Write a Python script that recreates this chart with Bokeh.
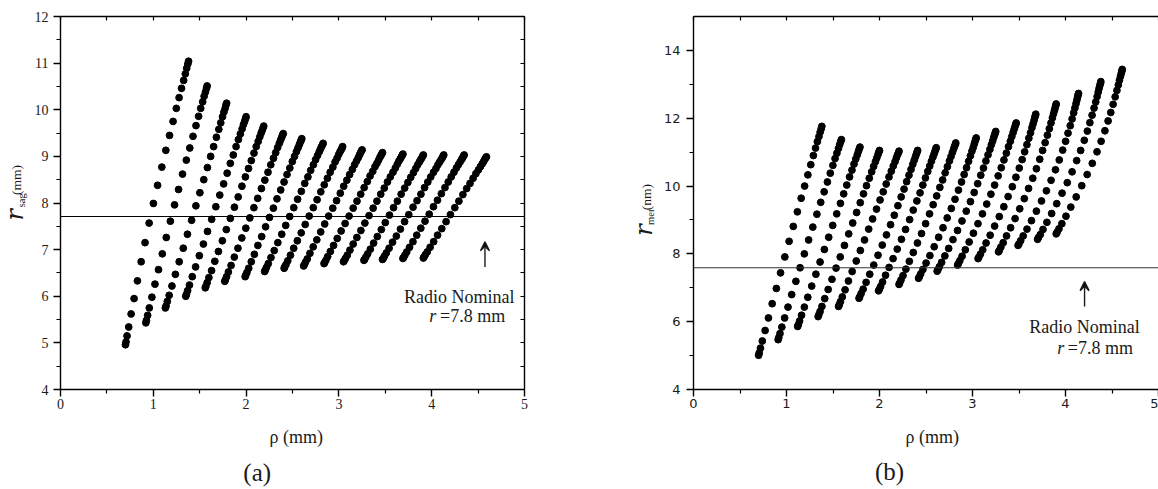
from bokeh.plotting import figure
from bokeh.models import (Range1d, LinearAxis, FixedTicker, Span, Label, Arrow,
                          VeeHead, ColumnDataSource)
from bokeh.layouts import row, column
from bokeh.embed import file_html
from bokeh.resources import INLINE

# ---------------- data ----------------
# (a) sagittal radius: 16 curves, rho (mm) and r_sag (mm)
SAG_RHO = [
    [0.700,0.706,0.717,0.735,0.761,0.793,0.829,0.869,0.911,0.955,1.001,1.046,1.092,1.135,1.175,1.213,1.248,1.278,1.304,1.327,1.345,1.360,1.372,1.380],
    [0.920,0.926,0.939,0.957,0.985,1.018,1.056,1.097,1.140,1.184,1.229,1.272,1.315,1.356,1.393,1.428,1.460,1.488,1.511,1.532,1.548,1.562,1.573,1.580],
    [1.130,1.137,1.151,1.171,1.201,1.238,1.279,1.323,1.368,1.413,1.459,1.502,1.544,1.583,1.618,1.650,1.680,1.706,1.727,1.746,1.761,1.774,1.783,1.790],
    [1.350,1.357,1.370,1.390,1.420,1.456,1.496,1.540,1.584,1.629,1.674,1.716,1.758,1.796,1.830,1.862,1.892,1.917,1.938,1.957,1.971,1.984,1.994,2.000],
    [1.560,1.566,1.580,1.599,1.628,1.663,1.702,1.744,1.787,1.830,1.874,1.915,1.955,1.992,2.026,2.056,2.085,2.109,2.130,2.148,2.162,2.174,2.184,2.190],
    [1.770,1.776,1.790,1.809,1.838,1.873,1.912,1.954,1.997,2.040,2.084,2.125,2.165,2.202,2.236,2.266,2.295,2.319,2.340,2.358,2.372,2.384,2.394,2.400],
    [1.990,1.996,2.009,2.028,2.056,2.089,2.127,2.168,2.210,2.252,2.294,2.333,2.373,2.409,2.441,2.471,2.498,2.522,2.542,2.559,2.573,2.585,2.594,2.600],
    [2.200,2.206,2.220,2.239,2.268,2.303,2.342,2.384,2.427,2.470,2.514,2.555,2.595,2.632,2.666,2.696,2.725,2.749,2.770,2.788,2.802,2.814,2.824,2.830],
    [2.410,2.416,2.430,2.449,2.478,2.513,2.552,2.594,2.637,2.680,2.724,2.765,2.805,2.842,2.876,2.906,2.935,2.959,2.980,2.998,3.012,3.024,3.034,3.040],
    [2.620,2.626,2.640,2.659,2.688,2.723,2.762,2.804,2.847,2.890,2.934,2.975,3.015,3.052,3.086,3.116,3.145,3.169,3.190,3.208,3.222,3.234,3.244,3.250],
    [2.840,2.846,2.860,2.879,2.908,2.943,2.982,3.024,3.067,3.110,3.154,3.195,3.235,3.272,3.306,3.336,3.365,3.389,3.410,3.428,3.442,3.454,3.464,3.470],
    [3.050,3.056,3.070,3.090,3.119,3.154,3.194,3.237,3.280,3.325,3.369,3.410,3.451,3.489,3.523,3.554,3.583,3.608,3.629,3.647,3.662,3.674,3.684,3.690],
    [3.270,3.276,3.290,3.310,3.339,3.374,3.414,3.457,3.500,3.545,3.589,3.630,3.671,3.709,3.743,3.774,3.803,3.828,3.849,3.867,3.882,3.894,3.904,3.910],
    [3.470,3.477,3.491,3.511,3.541,3.578,3.619,3.663,3.708,3.753,3.799,3.842,3.884,3.923,3.958,3.990,4.020,4.046,4.067,4.086,4.101,4.114,4.123,4.130],
    [3.690,3.697,3.711,3.731,3.761,3.798,3.839,3.883,3.928,3.973,4.019,4.062,4.104,4.143,4.178,4.210,4.240,4.266,4.287,4.306,4.321,4.334,4.343,4.350],
    [3.910,3.917,3.931,3.952,3.983,4.021,4.063,4.109,4.155,4.202,4.249,4.293,4.336,4.377,4.413,4.446,4.476,4.503,4.525,4.544,4.560,4.573,4.583,4.590],
]
SAG_R = [
    [4.96,5.02,5.15,5.34,5.62,5.95,6.33,6.74,7.15,7.57,7.99,8.38,8.77,9.13,9.45,9.75,10.03,10.26,10.46,10.63,10.77,10.89,10.98,11.04],
    [5.43,5.48,5.59,5.75,5.98,6.26,6.57,6.91,7.26,7.61,7.96,8.29,8.62,8.92,9.18,9.43,9.66,9.86,10.03,10.17,10.29,10.38,10.46,10.51],
    [5.75,5.79,5.89,6.02,6.22,6.47,6.74,7.03,7.33,7.63,7.94,8.22,8.50,8.76,9.00,9.21,9.41,9.58,9.72,9.85,9.95,10.03,10.10,10.14],
    [6.00,6.04,6.12,6.24,6.42,6.63,6.87,7.12,7.39,7.65,7.92,8.17,8.41,8.64,8.85,9.03,9.21,9.36,9.48,9.59,9.68,9.75,9.81,9.85],
    [6.18,6.21,6.29,6.40,6.55,6.75,6.96,7.19,7.43,7.67,7.91,8.13,8.36,8.56,8.74,8.91,9.07,9.21,9.32,9.42,9.50,9.56,9.62,9.65],
    [6.32,6.35,6.42,6.52,6.66,6.84,7.03,7.25,7.46,7.68,7.90,8.10,8.31,8.49,8.66,8.82,8.96,9.08,9.19,9.28,9.35,9.41,9.46,9.49],
    [6.42,6.45,6.51,6.60,6.74,6.90,7.09,7.28,7.49,7.69,7.89,8.09,8.28,8.45,8.61,8.75,8.89,9.00,9.10,9.18,9.25,9.31,9.35,9.38],
    [6.53,6.56,6.62,6.70,6.83,6.98,7.15,7.33,7.52,7.71,7.90,8.08,8.25,8.42,8.56,8.70,8.82,8.93,9.02,9.10,9.16,9.21,9.25,9.28],
    [6.60,6.63,6.68,6.76,6.88,7.03,7.19,7.36,7.54,7.72,7.90,8.07,8.24,8.39,8.53,8.66,8.77,8.88,8.96,9.04,9.10,9.14,9.18,9.21],
    [6.65,6.67,6.73,6.80,6.92,7.06,7.21,7.38,7.55,7.72,7.89,8.05,8.21,8.36,8.49,8.61,8.72,8.82,8.90,8.97,9.03,9.08,9.12,9.14],
    [6.70,6.72,6.77,6.85,6.96,7.09,7.24,7.40,7.56,7.72,7.89,8.04,8.19,8.33,8.46,8.58,8.68,8.78,8.85,8.92,8.98,9.02,9.06,9.08],
    [6.74,6.76,6.81,6.88,6.99,7.12,7.26,7.41,7.57,7.73,7.89,8.04,8.19,8.32,8.45,8.56,8.66,8.75,8.83,8.90,8.95,8.99,9.03,9.05],
    [6.77,6.79,6.84,6.91,7.01,7.14,7.28,7.43,7.58,7.74,7.90,8.04,8.19,8.32,8.44,8.55,8.65,8.74,8.82,8.88,8.93,8.97,9.01,9.03],
    [6.79,6.81,6.86,6.93,7.03,7.16,7.29,7.44,7.60,7.75,7.91,8.05,8.19,8.33,8.45,8.56,8.66,8.74,8.82,8.88,8.93,8.97,9.01,9.03],
    [6.81,6.83,6.88,6.95,7.05,7.17,7.31,7.46,7.61,7.76,7.92,8.06,8.20,8.33,8.45,8.56,8.66,8.75,8.82,8.88,8.93,8.97,9.01,9.03],
    [6.82,6.84,6.89,6.95,7.05,7.17,7.31,7.45,7.60,7.75,7.90,8.04,8.18,8.31,8.42,8.53,8.63,8.71,8.78,8.84,8.89,8.94,8.97,8.99],
]
# (b) meridional radius: 16 curves, rho (mm) and r_mer
MER_RHO = [
    [0.700,0.707,0.720,0.740,0.770,0.806,0.846,0.891,0.936,0.982,1.028,1.073,1.117,1.158,1.195,1.230,1.261,1.289,1.312,1.332,1.349,1.362,1.373,1.380],
    [0.910,0.917,0.930,0.950,0.980,1.016,1.056,1.101,1.146,1.192,1.238,1.283,1.327,1.368,1.405,1.440,1.471,1.499,1.522,1.542,1.559,1.572,1.583,1.590],
    [1.120,1.127,1.141,1.162,1.192,1.229,1.271,1.316,1.361,1.407,1.454,1.497,1.540,1.580,1.615,1.648,1.678,1.704,1.726,1.745,1.761,1.773,1.783,1.790],
    [1.340,1.347,1.361,1.381,1.411,1.448,1.489,1.533,1.578,1.623,1.669,1.712,1.754,1.793,1.828,1.860,1.890,1.916,1.937,1.956,1.971,1.984,1.993,2.000],
    [1.560,1.567,1.580,1.600,1.630,1.666,1.706,1.750,1.794,1.839,1.884,1.926,1.968,2.006,2.040,2.072,2.102,2.127,2.148,2.167,2.181,2.194,2.204,2.210],
    [1.780,1.787,1.802,1.824,1.856,1.895,1.938,1.984,2.030,2.075,2.119,2.159,2.198,2.233,2.264,2.292,2.317,2.339,2.358,2.373,2.386,2.396,2.405,2.410],
    [1.990,1.997,2.012,2.033,2.065,2.103,2.146,2.191,2.236,2.280,2.324,2.363,2.402,2.436,2.466,2.494,2.519,2.540,2.558,2.574,2.586,2.596,2.605,2.610],
    [2.210,2.217,2.231,2.253,2.284,2.321,2.363,2.408,2.452,2.496,2.538,2.577,2.615,2.649,2.679,2.706,2.730,2.752,2.769,2.784,2.797,2.807,2.815,2.820],
    [2.420,2.428,2.443,2.467,2.501,2.542,2.588,2.636,2.683,2.728,2.772,2.812,2.849,2.882,2.910,2.936,2.958,2.978,2.994,3.008,3.019,3.028,3.035,3.040],
    [2.620,2.628,2.644,2.668,2.703,2.744,2.790,2.839,2.887,2.933,2.978,3.018,3.056,3.089,3.118,3.144,3.167,3.187,3.203,3.217,3.228,3.238,3.245,3.250],
    [2.840,2.848,2.864,2.888,2.923,2.964,3.010,3.059,3.107,3.153,3.198,3.238,3.276,3.309,3.338,3.364,3.387,3.407,3.423,3.437,3.448,3.458,3.465,3.470],
    [3.060,3.068,3.085,3.110,3.146,3.190,3.238,3.288,3.337,3.383,3.428,3.467,3.503,3.534,3.561,3.585,3.606,3.624,3.639,3.651,3.661,3.669,3.676,3.680],
    [3.280,3.288,3.305,3.330,3.366,3.410,3.458,3.508,3.557,3.603,3.648,3.687,3.723,3.754,3.781,3.805,3.826,3.844,3.859,3.871,3.881,3.889,3.896,3.900],
    [3.490,3.499,3.518,3.545,3.586,3.634,3.687,3.742,3.795,3.845,3.892,3.933,3.970,4.001,4.027,4.051,4.071,4.088,4.101,4.113,4.122,4.130,4.136,4.140],
    [3.700,3.709,3.729,3.758,3.800,3.851,3.906,3.963,4.019,4.071,4.120,4.163,4.202,4.235,4.262,4.286,4.307,4.325,4.340,4.352,4.361,4.369,4.376,4.380],
    [3.900,3.910,3.930,3.961,4.005,4.057,4.115,4.175,4.233,4.288,4.339,4.383,4.424,4.458,4.487,4.512,4.534,4.553,4.568,4.580,4.591,4.599,4.606,4.610],
]
MER_R = [
    [5.01,5.08,5.22,5.43,5.74,6.11,6.53,6.98,7.44,7.91,8.37,8.81,9.24,9.64,10.00,10.33,10.63,10.90,11.12,11.31,11.46,11.59,11.69,11.76],
    [5.47,5.53,5.65,5.84,6.11,6.43,6.80,7.19,7.59,8.00,8.41,8.79,9.17,9.52,9.83,10.12,10.38,10.61,10.81,10.97,11.11,11.22,11.31,11.37],
    [5.86,5.91,6.02,6.19,6.43,6.72,7.05,7.40,7.76,8.13,8.49,8.84,9.18,9.49,9.77,10.03,10.27,10.47,10.65,10.80,10.92,11.02,11.10,11.15],
    [6.15,6.20,6.30,6.45,6.68,6.95,7.25,7.58,7.91,8.25,8.59,8.91,9.22,9.51,9.77,10.01,10.23,10.42,10.58,10.72,10.83,10.93,11.00,11.05],
    [6.45,6.50,6.59,6.73,6.94,7.20,7.48,7.79,8.10,8.41,8.73,9.03,9.32,9.59,9.83,10.06,10.27,10.44,10.59,10.72,10.83,10.92,10.98,11.03],
    [6.69,6.73,6.83,6.96,7.16,7.40,7.67,7.96,8.26,8.56,8.86,9.14,9.42,9.68,9.91,10.13,10.32,10.49,10.64,10.76,10.86,10.94,11.01,11.05],
    [6.91,6.95,7.04,7.17,7.37,7.60,7.86,8.14,8.43,8.72,9.01,9.29,9.56,9.80,10.03,10.24,10.43,10.59,10.73,10.85,10.94,11.02,11.09,11.13],
    [7.10,7.14,7.23,7.36,7.55,7.78,8.04,8.32,8.60,8.89,9.18,9.45,9.71,9.96,10.18,10.39,10.57,10.74,10.87,10.99,11.09,11.17,11.23,11.27],
    [7.28,7.32,7.41,7.54,7.73,7.95,8.21,8.49,8.77,9.06,9.34,9.61,9.88,10.12,10.34,10.54,10.73,10.89,11.03,11.14,11.24,11.32,11.38,11.42],
    [7.49,7.53,7.62,7.75,7.94,8.16,8.42,8.69,8.97,9.26,9.54,9.81,10.07,10.32,10.53,10.74,10.92,11.08,11.22,11.33,11.43,11.51,11.57,11.61],
    [7.67,7.71,7.80,7.93,8.12,8.35,8.61,8.89,9.18,9.47,9.76,10.03,10.30,10.54,10.77,10.97,11.16,11.32,11.46,11.58,11.68,11.76,11.82,11.86],
    [7.86,7.90,7.99,8.12,8.32,8.55,8.82,9.10,9.39,9.69,9.98,10.26,10.53,10.78,11.01,11.22,11.41,11.57,11.72,11.83,11.93,12.01,12.08,12.12],
    [8.06,8.10,8.20,8.33,8.53,8.77,9.04,9.33,9.63,9.93,10.23,10.51,10.79,11.05,11.28,11.50,11.69,11.86,12.01,12.13,12.23,12.31,12.38,12.42],
    [8.25,8.29,8.39,8.53,8.73,8.98,9.26,9.56,9.86,10.17,10.48,10.77,11.06,11.32,11.56,11.78,11.98,12.16,12.30,12.43,12.53,12.62,12.69,12.73],
    [8.43,8.48,8.57,8.72,8.93,9.19,9.48,9.79,10.10,10.42,10.75,11.05,11.35,11.62,11.87,12.09,12.30,12.48,12.64,12.77,12.88,12.96,13.03,13.08],
    [8.59,8.64,8.74,8.89,9.11,9.38,9.68,10.01,10.34,10.67,11.01,11.32,11.63,11.92,12.17,12.41,12.63,12.82,12.98,13.12,13.23,13.32,13.39,13.44],
]

SAG_NOMINAL_LINE = 7.71
MER_NOMINAL_LINE = 7.59

X_TICKS = [0, 1, 2, 3, 4, 5]
X_MINOR = [0.5, 1.5, 2.5, 3.5, 4.5]
X_HALF = [0, 0.5, 1, 1.5, 2, 2.5, 3, 3.5, 4, 4.5, 5]
SAG_Y_TICKS = [4, 5, 6, 7, 8, 9, 10, 11, 12]
SAG_Y_MINOR = [4.5, 5.5, 6.5, 7.5, 8.5, 9.5, 10.5, 11.5]
SAG_Y_HALF = [4, 4.5, 5, 5.5, 6, 6.5, 7, 7.5, 8, 8.5, 9, 9.5, 10, 10.5, 11, 11.5, 12]
MER_Y_TICKS = [4, 6, 8, 10, 12, 14]
MER_Y_MINOR = [5, 7, 9, 11, 13]

SERIF = "Liberation Serif"
INK = "#1a1a1a"
TOP_H = 420      # height of the row holding the two panels
CAP_H = 69       # height of the strip holding x labels and captions


def flat(rows):
    return [v for rw in rows for v in rw]


def style_axis(ax, font, size, standoff):
    ax.axis_line_width = 1.4
    ax.axis_line_color = "black"
    ax.major_tick_line_width = 1.4
    ax.minor_tick_line_width = 1.2
    ax.major_tick_out = 7
    ax.major_tick_in = 0
    ax.minor_tick_out = 4
    ax.minor_tick_in = 0
    ax.major_label_text_font = font
    ax.major_label_text_font_size = size
    ax.major_label_text_color = INK
    ax.major_label_standoff = standoff


def inner_axis(ticks):
    ax = LinearAxis(ticker=FixedTicker(ticks=ticks))
    ax.axis_line_width = 1.4
    ax.major_tick_in = 4
    ax.major_tick_out = 0
    ax.major_tick_line_width = 1.2
    ax.minor_tick_line_color = None
    ax.major_label_text_color = None
    ax.major_label_text_font_size = "2px"
    ax.major_label_standoff = 0
    return ax


def make_fig(width, xr, yr, borders):
    l, r, t, b = borders
    p = figure(width=width, height=TOP_H, x_range=Range1d(*xr), y_range=Range1d(*yr),
               output_backend="svg", toolbar_location=None,
               min_border_left=l, min_border_right=r, min_border_top=t,
               min_border_bottom=b)
    p.grid.visible = False
    p.outline_line_color = None
    p.background_fill_color = "white"
    p.border_fill_color = "white"
    return p


def text_fig(width, height):
    # a bare canvas whose data units are pixels (y measured upward)
    p = figure(width=width, height=height, x_range=Range1d(0, width),
               y_range=Range1d(0, height), output_backend="svg",
               toolbar_location=None, x_axis_type=None, y_axis_type=None,
               min_border=0)
    p.grid.visible = False
    p.outline_line_color = None
    p.background_fill_color = "white"
    p.border_fill_color = "white"
    return p


def text(p, x, y, s, size, font=SERIF, style="normal", align="center", angle=0.0):
    p.add_layout(Label(x=x, y=y, text=s, text_font=font, text_font_size=size,
                       text_font_style=style, text_align=align,
                       text_baseline="middle", angle=angle, text_color=INK))


# ---------------- panel (a) ----------------
pa = make_fig(550, (0, 5), (4, 12), (30, 56, 16, 30))
pa.xaxis.ticker = FixedTicker(ticks=X_TICKS, minor_ticks=X_MINOR)
pa.yaxis.ticker = FixedTicker(ticks=SAG_Y_TICKS, minor_ticks=SAG_Y_MINOR)
style_axis(pa.xaxis[0], SERIF, "14px", 2)
style_axis(pa.yaxis[0], SERIF, "14px", 5)
pa.add_layout(inner_axis(X_HALF), "above")
pa.add_layout(inner_axis(SAG_Y_HALF), "right")

src1 = ColumnDataSource(dict(x=flat(SAG_RHO), y=flat(SAG_R)))
pa.scatter("x", "y", source=src1, size=6.8, color="black")
pa.add_layout(Span(location=SAG_NOMINAL_LINE, dimension="width",
                   line_color="black", line_width=1.1))
pa.add_layout(Arrow(end=VeeHead(size=9, line_width=1.4, line_color=INK),
                    x_start=4.574, y_start=6.63, x_end=4.574, y_end=7.17,
                    line_width=1.4, line_color=INK))
text(pa, 4.297, 5.99, "Radio Nominal", "18px")
text(pa, 3.973, 5.58, "r", "18px", style="italic", align="left")
text(pa, 4.090, 5.58, "=7.8 mm", "18px", align="left")

# y-axis title of (a), drawn on its own strip (x 0..30 of the page)
ya = text_fig(30, TOP_H)
text(ya, 14.2, TOP_H - 223.3, "r", "24px", font="DejaVu Serif", style="italic", angle=1.5708)
text(ya, 21.0, TOP_H - 207.0, "sag", "10.5px", angle=1.5708)
text(ya, 16.2, TOP_H - 184.0, "(mm)", "13.5px", angle=1.5708)

# ---------------- panel (b) ----------------
pb = make_fig(498, (0, 5), (4, 15), (32, 0, 12, 31))
pb.xaxis.ticker = FixedTicker(ticks=X_TICKS, minor_ticks=X_MINOR)
pb.yaxis.ticker = FixedTicker(ticks=MER_Y_TICKS, minor_ticks=MER_Y_MINOR)
style_axis(pb.xaxis[0], "DejaVu Sans", "13px", 2)
style_axis(pb.yaxis[0], "DejaVu Sans", "13px", 6)
pb.add_layout(inner_axis(X_HALF), "above")

src2 = ColumnDataSource(dict(x=flat(MER_RHO), y=flat(MER_R)))
pb.scatter("x", "y", source=src2, size=6.8, color="black")
pb.add_layout(Span(location=MER_NOMINAL_LINE, dimension="width",
                   line_color="#333333", line_width=1.1))
pb.add_layout(Arrow(end=VeeHead(size=9, line_width=1.4, line_color=INK),
                    x_start=4.205, y_start=6.45, x_end=4.205, y_end=7.18,
                    line_width=1.4, line_color=INK))
text(pb, 4.205, 5.833, "Radio Nominal", "18px")
text(pb, 3.912, 5.228, "r", "18px", style="italic", align="left")
text(pb, 4.025, 5.228, "=7.8 mm", "18px", align="left")

# y-axis title of (b), on its strip (x 580..660 of the page)
yb = text_fig(80, TOP_H)
text(yb, 63.5, TOP_H - 240.5, "r", "24px", font="DejaVu Serif", style="italic", angle=1.5708)
text(yb, 70.0, TOP_H - 225.5, "mer", "10.5px", angle=1.5708)
text(yb, 65.8, TOP_H - 203.5, "(nm)", "13.5px", angle=1.5708)

# ---------------- bottom strip: x titles and captions ----------------
cap = text_fig(1158, CAP_H)
text(cap, 295.8, CAP_H - 16.5, "ρ (mm)", "18px")
text(cap, 931.7, CAP_H - 16.7, "ρ (mm)", "18px")
text(cap, 256.7, CAP_H - 51.7, "(a)", "25px")
text(cap, 889.0, CAP_H - 51.0, "(b)", "25px")

layout = column(row(ya, pa, yb, pb), cap)
open("out.html", "w").write(file_html(layout, INLINE))
